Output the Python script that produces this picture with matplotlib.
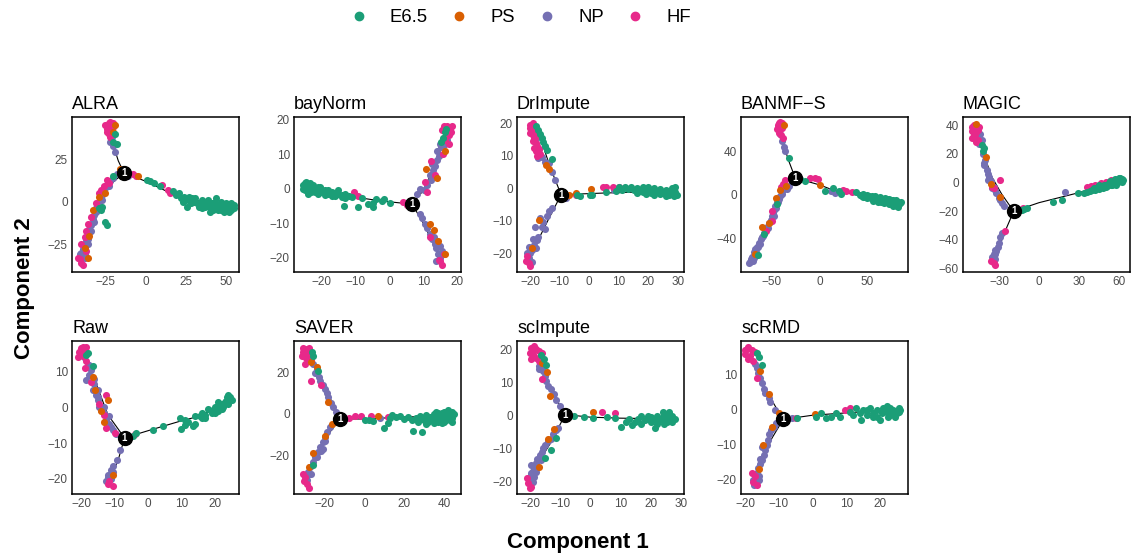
import matplotlib
matplotlib.use("Agg")
import matplotlib.pyplot as plt
from matplotlib.lines import Line2D

plt.rcParams["font.family"] = ["Liberation Sans", "DejaVu Sans"]

# cell types, legend labels and Dark2 colours
GROUP_KEYS = ["E", "P", "N", "H"]
GROUP_LABELS = ["E6.5", "PS", "NP", "HF"]
GROUP_COLORS = {"E": "#1B9E77", "P": "#D95F02", "N": "#7570B3", "H": "#E7298A"}
DRAW_ORDER = ["N", "H", "P", "E"]

# ---- ALRA ----
ALRA_NODE = (-13.5, 17)
ALRA_TREE = [[(-13.5, 17), (-17, 24), (-21, 36)],
             [(-13.5, 17), (-22, 10), (-30, -3), (-39, -30)],
             [(-13.5, 17), (0, 12), (20, 3), (50, -3)]]
ALRA_PTS = {
    "N": [(-22, 44), (-21, 38), (-20, 33), (-19, 29), (-22, 35), (-18, 16), (-20, 14), (-22, 12), (-24, 10),
          (-25, 8), (-26, 6), (-27, 4), (-28, 2), (-29, 0), (-30, -2), (-31, -4), (-31, -6), (-32, -8),
          (-33, -10), (-33, -12), (-34, -14), (-35, -16), (-35, -18), (-36, -20), (-37, -22), (-37, -24),
          (-38, -26), (-39, -28), (-39, -30), (-40, -32), (-38, -33), (-41, -31), (-29, -3), (-32, -12),
          (-36, -25), (-11, 15), (-34, -17), (-38, -31), (-40, -30), (-30, -5), (-27, 1), (-23, 9), (-36, -22)],
    "H": [(-23, 46), (-21, 45), (-24, 43), (-22, 42), (-20, 44), (-23, 40), (-24, 41), (-21, 40), (-22, 47),
          (-24, 13), (-23, 11), (-26, 9), (-28, 7), (-29, 5), (-31, -1), (-34, -9), (-36, -13), (-37, -17),
          (-38, -21), (-40, -25), (-41, -34), (-40, -36), (-39, -37), (-42, -33), (-37, -29), (-8, 16),
          (-6, 15), (10, 10), (14, 7), (15, 5), (-25, 45), (-20, 46), (-23, 44), (-22, 38)],
    "P": [(-19, 45), (-20, 41), (-25, 5), (-29, 3), (-33, -5), (-35, -20), (-38, -27), (-36, -33), (-5, 15),
          (-16, 19)],
    "E": [(-20, 35), (-18, 34), (-19, 40), (-27, -3), (-28, -5), (-29, -4), (-24, -14), (-25, -12), (-20, 15),
          (1, 13), (3, 12), (5, 11), (9, 9), (17, 6), (19, 4), (21, 5), (22, 2), (24, 3), (25, 1), (27, 3),
          (28, -1), (30, 0), (31, 2), (32, -1), (34, -2), (35, 1), (36, 0), (37, -3), (38, -2), (40, -3),
          (41, -1), (42, -5), (44, -4), (45, -2), (46, -3), (47, -5), (48, -2), (49, -4), (50, -4), (51, -2),
          (52, -3), (53, -5), (54, -3), (55, -2), (53, -1), (49, -6), (45, -5), (35, -4), (26, -3), (40, -6),
          (43, 0), (39, 1), (44, 2), (47, 0), (50, -1), (52, -6), (55, -4), (33, -3), (29, 2), (23, 0)],
}

# ---- bayNorm ----
BAYNORM_NODE = (6.7, -4.5)
BAYNORM_TREE = [[(6.7, -4.5), (-3, -3.5), (-20, -1)],
                [(6.7, -4.5), (10, -0.5), (14, 8), (17, 16)],
                [(6.7, -4.5), (10, -10), (13, -16), (15, -20)]]
BAYNORM_PTS = {
    "N": [(10.3, -0.5), (11, 1), (12.4, 2.4), (12, 4), (12.9, 5.3), (13.5, 6.5), (13.9, 8.2), (14.5, 9.5),
          (15.3, 12), (14, 11), (16.3, 15), (17, 14), (16, 12.5), (9, -7.2), (9.5, -8.5), (10.4, -10.1),
          (11, -11.5), (11.9, -13), (12.5, -14.5), (13.4, -15.9), (13.8, -17.3), (14.3, -18.8), (14.8, -20),
          (15.5, -18), (13.8, -21), (8, -1.5), (9, 0), (15, 13), (14.5, -19), (15, -16.5), (12.5, 7),
          (13, -14)],
    "H": [(-10.5, -1), (-9.1, -2), (4.1, -3.9), (5.1, -4.8), (12.4, 8), (13.5, 4), (16, 18), (17, 18.2),
          (18, 17.5), (17.5, 15.5), (18.3, 16.5), (15.5, 17), (16.5, 14), (17.5, 13), (11, -1), (10.5, 2),
          (15, -21), (15.5, -22), (14.5, -20.5), (16, -19), (12, -14), (15.8, 10), (17, 16.5), (18.5, 18)],
    "P": [(10.9, 5.8), (11.9, -10.1), (14.3, -15), (16.3, -18.8), (13, -12), (14, 3), (16.5, 11)],
    "E": [(-25, 1.5), (-24.5, 0.5), (-25, -0.5), (-24, 1), (-24, -0.5), (-23, 0.5), (-23, -1), (-22, 0),
          (-22, -1), (-21, 0.5), (-21, -1.5), (-20, 0), (-20, -1), (-19, -0.5), (-19, -1.8), (-18, -0.5),
          (-18, -1.5), (-17, -1), (-17, -2), (-16, -1.2), (-16, -2.2), (-15, -1.5), (-15, -0.5), (-14, -1.8),
          (-14, -2.5), (-13, -1.5), (-13, -2.8), (-12, -2), (-11, -2.5), (-13.4, -5.1), (-9.1, -5.3),
          (-8, -2.8), (-6.2, -4.4), (-4.7, -4.1), (-4.7, -5.3), (-4, -3), (-2.2, -3.7), (-1.5, -3),
          (0.2, -4.3), (-25.5, 1), (16.3, 16.3), (15.3, 13.4), (15.8, 14.5), (16.8, 17.2), (-24.5, 2),
          (-23.5, 1.5), (-25.5, 0), (-24, -1.5), (-22.5, 1), (-21.5, -0.5), (-20.5, 0.5)],
}

# ---- DrImpute ----
DRIMPUTE_NODE = (-9.5, -2)
DRIMPUTE_TREE = [[(-9.5, -2), (-13, 6), (-16, 14)],
                 [(-9.5, -2), (-14, -10), (-20, -21)],
                 [(-9.5, -2), (5, -1.5), (25, -1)]]
DRIMPUTE_PTS = {
    "N": [(-17.4, 9.2), (-16, 9.5), (-13.7, 7.7), (-12.5, 5.1), (-11.4, 2.6), (-15, 8), (-17, 12), (-18, 15),
          (-12.6, -6.2), (-13.5, -7), (-14.3, -8.7), (-16.6, -9.2), (-16.1, -11.8), (-15, -12.5), (-18.4, -12),
          (-17.2, -14.9), (-17.8, -16), (-19, -15.5), (-18.5, -17.5), (-19.4, -19), (-20, -20), (-21.1, -19.9),
          (-20.5, -21.5), (-20.5, -22.6), (-19.5, -22.8), (-8, -3), (8.5, -0.5), (-18, -18.5), (-20.5, -18),
          (-15.5, -10.5)],
    "H": [(-19, 20), (-18.5, 19), (-20, 18.5), (-19.5, 17.5), (-18, 18), (-19, 16.5), (-18.5, 15.5), (-18, 14),
          (-17.5, 13), (-17, 12), (-18, 11.5), (-16.5, 10.5), (-17.5, 16), (-20, 19.5), (-21, -21),
          (-20.5, -23), (-20, -23.8), (-21.5, -22.5), (-4.5, -2.2), (4.6, 0.3), (7.9, 0.3), (5.5, 0.5),
          (10, 0.5), (-20, 17), (-19, 14.5), (-18.5, 12.5), (-17.8, 10)],
    "P": [(-13.7, 5.9), (-14.5, 7), (-17, -9.8), (-19.5, -18.5), (-7, -2), (0.7, -0.3), (-4.5, -1.5)],
    "E": [(-17.4, 17.9), (-16.5, 16.8), (-16, 15.5), (-15.5, 14.3), (-15, 13), (-14.3, 11.8), (-12.5, 9),
          (-18, 19), (-4.3, -2), (-3, -2.3), (0.1, -2), (1, -2.2), (5.7, -1.3), (9, -0.8), (10.2, 0.5),
          (11, -0.5), (12, 0.3), (13, -0.2), (14, 0.5), (15, -0.5), (16, 0.2), (17, -0.8), (18, 0.4),
          (19, -0.3), (20, 0.5), (21, -0.7), (22, 0), (23, -1), (24, -0.2), (25, -1.2), (26, -0.5),
          (27, -1.5), (28, -0.8), (29, -1.3), (29.5, -2), (28.5, -2.3), (27, -2), (24, -1.8), (21, -1.5),
          (18, -1.2), (19, -1.8), (22, -2), (26, -2.3), (28, 0), (29, 0.3), (16, -1.5)],
}

# ---- BANMF-S ----
BANMF_NODE = (-25.4, 15.4)
BANMF_TREE = [[(-25.4, 15.4), (-33, 33), (-38, 48)],
              [(-25.4, 15.4), (-38, 2), (-55, -30), (-72, -60)],
              [(-25.4, 15.4), (0, 9), (15, 4), (45, -1), (80, -8)]]
BANMF_PTS = {
    "N": [(-39.3, 49), (-37, 44), (-35.9, 40), (-41, 56), (-32.4, 7.7), (-34, 5), (-37.7, 4.6), (-39, 1),
          (-40.8, -1.5), (-42, -4), (-44, -7), (-46.3, -10.8), (-47.5, -14), (-48.5, -17), (-49.8, -20),
          (-51, -23), (-52.5, -26), (-55, -29.3), (-56.5, -32), (-58, -35), (-60.3, -38.5), (-61.5, -41),
          (-63, -44), (-65.5, -47.7), (-67, -50), (-68.5, -53), (-70.7, -57), (-72, -59), (-73, -62),
          (-74.2, -63), (-70, -61), (-66, -53), (-62, -45), (-45, -12), (16, 1.5), (12, 3), (-28, 13),
          (-69, -58), (-64, -48), (-59, -38), (-54, -31), (-48, -20), (-43, -7)],
    "H": [(-42, 66), (-40, 64), (-43, 62), (-41, 60), (-39, 61), (-42, 57), (-40, 55), (-38, 52), (-43, 64),
          (-39, 66), (-35.9, 13.8), (-38, 10), (-40, 7), (-49.8, -24.6), (-50, -15), (-56, -33), (-9.7, 15.4),
          (-4.5, 15), (-2, 14.5), (25, 4.6), (33.8, 2), (28, 3.5), (-30, 16), (-41, 67), (-44, 60)],
    "P": [(-37, 64), (-40.8, 4), (-60.3, -29.3), (-45, -3), (-53, -26), (-67, -55), (0.7, 9.2), (-35, 8)],
    "E": [(-32.4, 33.9), (-63.8, -55.4), (-57.6, -36), (-44, -9), (-15, 12.3), (-20, 14), (6, 3), (14.6, 6.2),
          (20, 3), (22, 1), (38, 2), (42, 0), (44, -1), (46, 1), (48, -2), (50, 0), (52, -1), (54, -3),
          (55, -1), (57, -2), (58, -4), (60, -3), (62, -5), (63, -2), (65, -4), (66, -6), (68, -5), (70, -7),
          (71, -4), (72, -6), (74, -8), (75, -5), (76, -7), (78, -9), (79, -6), (80, -8), (82, -7), (83, -9),
          (84, -8), (81, -10), (77, -10), (73, -9), (67, -8), (61, -7), (56, -6), (64, -7), (69, -3), (73, -4),
          (77, -5), (80, -5), (85, -7), (82, -11), (58, -1), (50, -3), (46, -2)],
}

# ---- MAGIC ----
MAGIC_NODE = (-19, -20)
MAGIC_TREE = [[(-19, -20), (-28, -8), (-36, 5), (-42, 22)],
              [(-19, -20), (-25, -33), (-30, -45)],
              [(-19, -20), (0, -14), (30, -7), (60, 1)]]
MAGIC_PTS = {
    "N": [(-44, 34), (-43, 30), (-40.3, 16), (-42, 20), (-41, 12), (-39, 9), (-38, 6), (-37.6, 4.2), (-36, 1),
          (-34, -2.8), (-33, -5), (-32.3, -7.4), (-30, -11), (-27.8, -14.5), (-26, -16), (-27.8, -35.5),
          (-29, -38), (-30.3, -42.5), (-31, -45), (-32.8, -49.5), (-34, -50), (-35, -52), (-33, -53),
          (19.4, -6.7), (39, -3), (-45, 27), (-41, 14), (-38, 2), (-35, -4), (-29, -12), (-32, -48),
          (-33, -47)],
    "H": [(-49, 40), (-48, 38), (-50, 36), (-47, 35), (-49, 33), (-48, 31), (-46, 30), (-47, 28), (-49, 38),
          (-46, 37), (-45, 39), (-35.3, -2.8), (-34, -4), (-29.1, 1.9), (-25.3, -34), (-34, -56), (-36, -55),
          (-33, -57.8), (-12, -18), (39.3, -2.3), (42, -1.5), (46.7, 0), (50, 0.5), (54.3, 1.9), (57, 2),
          (36, -3), (-50, 39), (-47, 39), (-48, 34), (-50, 31)],
    "P": [(-47, 41), (-29, -10), (-40, 18), (-36, -1)],
    "E": [(-41.5, 24), (-42, 22), (-43, 26), (-12.9, -19.1), (-11, -18.5), (-9, -18), (10.7, -13.3),
          (16.9, -12), (29.4, -7.4), (34, -7), (36, -6.5), (38, -6), (40, -5), (42, -5.5), (43, -4),
          (45, -4.5), (46, -3), (48, -3.5), (49, -2), (51, -2.5), (52, -1), (54, -1.5), (55, 0), (57, -0.5),
          (58, 1), (59, 0.5), (60, 2), (61, 1.5), (62, 2.5), (61, 3), (59, 2.5), (56, 1), (53, -0.5),
          (50, -1.5), (47, -2.5), (44, -3.5), (41, -4), (45, -1.5), (50, -3), (55, -2), (58, -1.5),
          (62, 0.5), (63, 2), (60, 3.5), (57, 2.5), (53, 1)],
}

# ---- Raw ----
RAW_NODE = (-7, -8.5)
RAW_TREE = [[(-7, -8.5), (-12, -2), (-16, 8)],
            [(-7, -8.5), (-9, -15), (-11, -19)],
            [(-7, -8.5), (0, -6.5), (9, -4), (15, -2.5), (22, 0.5)]]
RAW_PTS = {
    "N": [(-19, 14), (-18, 12), (-18.4, 7.7), (-17.5, 9), (-17, 10.5), (-16.4, 4.9), (-16, 6.5), (-15.5, 3.5),
          (-14.9, 2.2), (-14.5, 0), (-13.9, -0.6), (-13, -1.5), (-12.4, -3.4), (-11.5, -4.5), (-11, -5.5),
          (-10.4, -6.2), (-9.5, -7.5), (-16, 8), (-15, 5), (-8.4, -11.8), (-9.4, -14.6), (-10.4, -16.5),
          (-11, -17.5), (-11.9, -18.8), (-11, -20), (-12, -19.5), (-17.5, 12), (-15, 3), (-13, 0),
          (-11.5, -2.5), (-10.5, -18), (-12.5, -20.5)],
    "H": [(-20, 16.6), (-19, 16), (-20.5, 15.5), (-19.5, 14.5), (-18.5, 16.8), (-18.9, 11), (-17, 7),
          (-14.5, 1), (-12.4, -5.6), (-12.6, 3.5), (-13, -2), (-11.5, -20.5), (-12, -21.5), (-10.5, -22),
          (-4, -7.5), (-10, -7), (-18.5, 13), (-19.5, 17), (-20.8, 14)],
    "P": [(-15.8, 5), (-11.9, 2.2), (-16.5, 8.5), (-14, -1), (-10.5, -19), (-13, -4)],
    "E": [(-17.9, 15.2), (-18.5, 14.8), (-16.4, 11.5), (-4.5, -8.1), (-3.5, -7.2), (1.5, -6.2), (4.5, -5.1),
          (9.5, -3), (9.9, -5.9), (11, -3.5), (12, -4), (13.4, -5.1), (14, -2.5), (15.4, -2.5), (16, -1.5),
          (17, -2), (18, -0.5), (19.4, -0.6), (20, 0), (21, 0.5), (22, 1), (23, 1.5), (23.4, 1.7), (24, 2.2),
          (24.4, 2.9), (23.5, 3), (22, -0.5), (20, -1.5), (17, -3), (11, -5), (21, -1), (22.5, 0), (24, 1),
          (25, 2), (24, 3.5), (19, -1.5), (16, -3), (14, -4.5), (21, 1.5)],
}

# ---- SAVER ----
SAVER_NODE = (-12.2, -2.4)
SAVER_TREE = [[(-12.2, -2.4), (-17, 7), (-23, 20)],
              [(-12.2, -2.4), (-20, -12), (-29, -28)],
              [(-12.2, -2.4), (0, -2.5), (17.5, -1.6), (40, -1)]]
SAVER_PTS = {
    "N": [(-26, 24), (-25, 20), (-22.5, 16.2), (-21, 14), (-20, 12.1), (-19, 10), (-18.3, 8.1), (-17, 5.5),
          (-15.8, 3.2), (-14.5, 1), (-23, 18), (-17.5, -6.5), (-19, -9), (-20, -11.4), (-21, -13.5),
          (-22.5, -16.2), (-23.5, -18.5), (-25, -21), (-26, -23.5), (-27.5, -25.9), (-28.5, -28), (-30, -30),
          (-29, -32), (-27, -29), (-24, -21), (-21, -17), (-29, 27), (8, -2), (-24, 22), (-20, -13),
          (-28, -29), (-22, -18)],
    "H": [(-31, 32), (-29, 31.5), (-30, 30), (-28, 29), (-31.5, 28), (-29.5, 27), (-27, 26), (-30, 24),
          (-28.5, 31), (-26.7, 16.2), (-22, 14), (-30, -30.8), (-31, -29), (-29, -34), (-30.5, -32.5),
          (-28, -36), (-5, -0.8), (-1.7, -0.8), (-8, -2), (3, -1), (12, -1.5), (-31, 30), (-28, 32), (-29, 28)],
    "P": [(-24, 23), (-18.3, 6), (-16.5, -5), (-20, -10.5), (-26, -19), (-28, -26), (6.7, -0.8), (-27, 25)],
    "E": [(-25.8, 28.3), (-26.5, 30), (-23.3, 21), (-26, -25), (0, -3.2), (2, -2.8), (4, -3.5), (10, -6.8),
          (11.7, -4.6), (13, -2), (14, -0.5), (16, -1.5), (18, -1), (20, -2.5), (22, -1.5), (24, -3),
          (24.2, -8.1), (26, -2), (27, -4), (28, -1), (29, -8.9), (30, -3), (31, -0.5), (32, -4), (33, -1.5),
          (34, -3), (35, 0), (36, -2), (37, -4), (38, -1), (39, 0.5), (40, -2), (41, -3), (42, 0), (43, -1),
          (44, 1), (44, -2), (42, 2), (39, -4.5), (35, -4.5), (31, -5), (36, 1), (38, -3), (40, 1), (41, -1),
          (43, -3), (45, 0), (44, -4), (40, -4), (33, -2), (37, 0.5), (29, -2.5)],
}

# ---- scImpute ----
SCIMPUTE_NODE = (-8.3, 0.3)
SCIMPUTE_TREE = [[(-8.3, 0.3), (-12, 6), (-15, 12)],
                 [(-8.3, 0.3), (-13, -8), (-19, -17)],
                 [(-8.3, 0.3), (0, -0.5), (10, -0.8), (25, -1)]]
SCIMPUTE_PTS = {
    "N": [(-17, 15), (-16, 14), (-15.7, 13.4), (-15, 12), (-14.6, 10.4), (-14, 9), (-13, 7.9), (-12, 6.5),
          (-11.3, 4.8), (-10, 3), (-10.8, -3.7), (-11.5, -4.5), (-12.5, -5.7), (-13, -7), (-14.1, -7.8),
          (-15, -9), (-15.7, -9.8), (-16, -11), (-16.8, -11.8), (-17.5, -13), (-17.9, -14.3), (-18.5, -15.5),
          (-19, -16.8), (-19.5, -18), (-20.1, -19.3), (-19, -20), (-18.5, -18.5), (-19.5, -15), (-17, 14),
          (-18, -17), (-16.5, -13.5), (-19.8, -17.5)],
    "H": [(-19.5, 20.5), (-18, 20), (-17, 19.5), (-19, 18.5), (-18, 17.5), (-16.5, 18), (-19.5, 17), (-17, 16.5),
          (-16, 19), (-21, -19), (-20.5, -20.5), (-19.5, -21.5), (-20, -22), (4, 1), (8.2, 0.8), (-16, 11),
          (-18.5, 21), (-20, 19)],
    "P": [(-14.5, 13), (-13.5, 6), (-12, -4), (-17, -15.5), (-16, 16), (0.8, 1), (-14, -7)],
    "E": [(-16.3, 18.4), (-15.5, 17), (-14.6, 15.4), (-11.3, -6.8), (-13, -10.3), (-15, -12.7), (-5.3, -0.2),
          (-2, -0.5), (0.8, -0.7), (5.4, -0.4), (8.3, -0.6), (10.1, -3.5), (12, -2), (13, -1), (14, -3),
          (15, -2), (16, -1), (17, -2.5), (18, -1.5), (19, 0), (20, -2), (21, -1), (21.6, -3.7), (22, 0),
          (23, -1.5), (24, -0.5), (25, 0.5), (26, -0.7), (27, 0), (26.5, -1.5), (25.5, -2), (27.5, -1),
          (24.5, -2.5), (20, -0.5), (17, 0), (25, -1.5), (26, 0), (27, -2), (28, -1), (26, 1), (24, 1),
          (19, -1), (22, -2.5)],
}

# ---- scRMD ----
SCRMD_NODE = (-8.7, -2.7)
SCRMD_TREE = [[(-8.7, -2.7), (-11, 1), (-14, 6), (-16, 12)],
              [(-8.7, -2.7), (-12, -8), (-17, -19)],
              [(-8.7, -2.7), (0, -1.5), (15, -0.5), (25, 0)]]
SCRMD_PTS = {
    "N": [(-17, 13), (-16.1, 10.5), (-15.5, 9), (-15.1, 7.6), (-14.5, 6), (-14.1, 4.8), (-13, 3.5),
          (-12.6, 2.4), (-11.2, 0), (-6.2, -2.4), (-10.7, -3.8), (-11.5, -4.8), (-12.2, -5.7), (-12.8, -7),
          (-13.1, -8.6), (-13.5, -10), (-14.1, -11.4), (-14.5, -13), (-15.1, -14.3), (-15.5, -15.5),
          (-16.1, -16.7), (-16.5, -18), (-17.1, -19), (-16.8, -20.5), (-17.3, -21.4), (-16, -20), (-15, -10.5),
          (-16.5, 12), (-17.5, -20), (-16, -19), (-15.5, -14)],
    "H": [(-19.5, 17.5), (-18, 17), (-20, 16), (-18.5, 15.5), (-17, 16.5), (-19, 14.5), (-17.5, 14), (-16.6, 9),
          (-17, -19), (-17.5, -20.5), (-16.5, -21.5), (-18, -18), (9.6, 0), (11, 0.5), (-5, -2.3), (-19, 18),
          (-20, 17)],
    "P": [(-15.5, 11), (-13, 4.5), (-12, -5), (-14.6, -10), (-16, -17), (0.7, -1.2), (-10, -1)],
    "E": [(-16.6, 16.2), (-16, 15), (-15.1, 12.9), (-4.5, -2.3), (1, -2), (2.6, -1), (4, -2.2), (5.6, -1.9),
          (7, -1), (8, -2), (11, -0.5), (12, -1.5), (13, 0.5), (14, -1), (14.5, -2.9), (15, 0), (16, -1.5),
          (17, 0.5), (18, -1), (19, 0), (20, -2.9), (20.5, -1), (21, 0.5), (22, -0.5), (23, -1.5), (24, 0),
          (25, -1), (25.5, 0.5), (24.5, -2), (22.5, -2), (19, -2), (21, -0.5), (23, 0.5), (24, -1),
          (25.5, -0.5), (26, 0), (22, 1), (18, -2), (16, 0)],
}

# title, node, tree, points, x ticks, y ticks, x limits, y limits
PANELS = [
    ("ALRA", ALRA_NODE, ALRA_TREE, ALRA_PTS, [-25, 0, 25, 50], [-25, 0, 25], (-45.8, 58.1), (-41.4, 49.8)),
    ("bayNorm", BAYNORM_NODE, BAYNORM_TREE, BAYNORM_PTS, [-20, -10, 0, 10, 20], [-20, -10, 0, 10, 20],
     (-28.1, 21.1), (-24.1, 20.7)),
    ("DrImpute", DRIMPUTE_NODE, DRIMPUTE_TREE, DRIMPUTE_PTS, [-20, -10, 0, 10, 20, 30], [-20, -10, 0, 10, 20],
     (-24.4, 32), (-25.8, 21.9)),
    ("BANMF\u2212S", BANMF_NODE, BANMF_TREE, BANMF_PTS, [-50, 0, 50], [-40, 0, 40], (-82.1, 92.6), (-71.1, 71.4)),
    ("MAGIC", MAGIC_NODE, MAGIC_TREE, MAGIC_PTS, [-30, 0, 30, 60], [-60, -40, -20, 0, 20, 40],
     (-57, 68.2), (-62.4, 45.8)),
    ("Raw", RAW_NODE, RAW_TREE, RAW_PTS, [-20, -10, 0, 10, 20], [-20, -10, 0, 10], (-22.7, 27.2), (-24.2, 18.6)),
    ("SAVER", SAVER_NODE, SAVER_TREE, SAVER_PTS, [-20, 0, 20, 40], [-20, 0, 20], (-35.5, 48.5), (-38.9, 35.4)),
    ("scImpute", SCIMPUTE_NODE, SCIMPUTE_TREE, SCIMPUTE_PTS, [-20, -10, 0, 10, 20, 30], [-20, -10, 0, 10, 20],
     (-24.3, 31.1), (-23.7, 22.5)),
    ("scRMD", SCRMD_NODE, SCRMD_TREE, SCRMD_PTS, [-20, -10, 0, 10, 20], [-20, -10, 0, 10],
     (-21.2, 28.3), (-24, 19.7)),
]

W, H = 1131, 558
COL_LEFT = [72, 294, 517, 741, 963]
ROW_TOP = [117, 341]
ROW_HEIGHT = [155, 153]
AX_WIDTH = 167


def draw_panel(ax, title, node, tree, pts, xticks, yticks, xlim, ylim):
    for branch in tree:
        ax.plot([p[0] for p in branch], [p[1] for p in branch], color="black", lw=0.8, zorder=1)
    for key in DRAW_ORDER:
        xs = [p[0] for p in pts[key]]
        ys = [p[1] for p in pts[key]]
        ax.scatter(xs, ys, s=26, color=GROUP_COLORS[key], linewidths=0, zorder=2)
    ax.plot(node[0], node[1], "o", color="black", markersize=10, zorder=3)
    ax.text(node[0], node[1], "1", color="white", fontsize=7, fontweight="bold",
            ha="center", va="center", zorder=4)

    ax.set_xlim(*xlim)
    ax.set_ylim(*ylim)
    ax.set_xticks(xticks)
    ax.set_yticks(yticks)
    ax.tick_params(length=0, pad=3, labelsize=8.5, labelcolor="#4D4D4D")
    for sp in ax.spines.values():
        sp.set_linewidth(1.1)
        sp.set_color("black")
    ax.set_title(title, loc="left", fontsize=13, pad=6)


def main():
    fig = plt.figure(figsize=(W / 100, H / 100), dpi=100)

    for i, (title, node, tree, pts, xt, yt, xl, yl) in enumerate(PANELS):
        row, col = divmod(i, 5)
        left = COL_LEFT[col] / W
        bottom = 1 - (ROW_TOP[row] + ROW_HEIGHT[row]) / H
        ax = fig.add_axes([left, bottom, AX_WIDTH / W, ROW_HEIGHT[row] / H])
        draw_panel(ax, title, node, tree, pts, xt, yt, xl, yl)

    fig.text(0.511, 0.018, "Component 1", ha="center", va="baseline", fontsize=16, fontweight="bold")
    fig.text(0.022, 0.484, "Component 2", ha="center", va="center", rotation=90,
             fontsize=16, fontweight="bold")

    handles = [Line2D([], [], marker="o", linestyle="", markersize=6, color=GROUP_COLORS[k])
               for k in GROUP_KEYS]
    fig.legend(handles, GROUP_LABELS, loc="center", bbox_to_anchor=(0.46, 0.968), ncol=4, frameon=False,
               fontsize=13.3, handlelength=1.0, handletextpad=1.2, columnspacing=1.2)

    fig.savefig("out.png", dpi=100)


if __name__ == "__main__":
    main()
